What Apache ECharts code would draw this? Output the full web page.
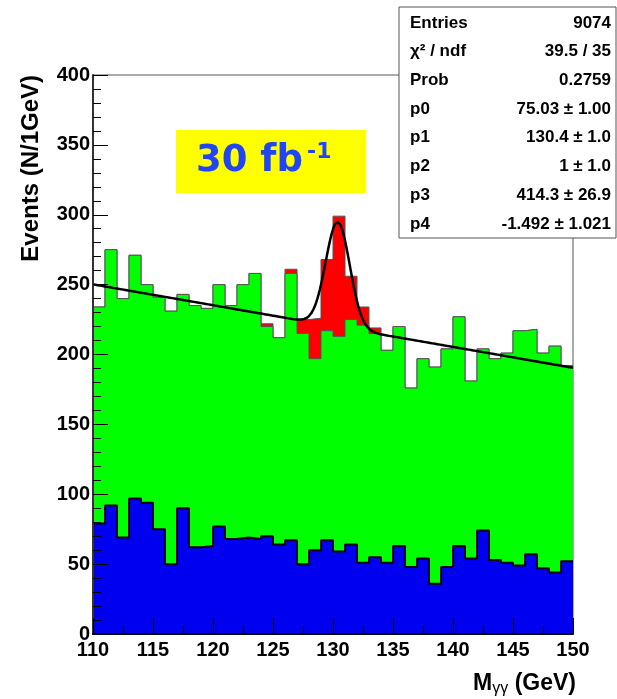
<!DOCTYPE html>
<html>
<head>
<meta charset="utf-8">
<script src="https://cdn.jsdelivr.net/npm/echarts@6/dist/echarts.min.js"></script>
<style>
  html, body { margin: 0; padding: 0; background: #fff; }
  #chart { width: 617px; height: 699px; }
</style>
</head>
<body>
<div id="chart"></div>
<script>
// 1 GeV bins from 110 to 150
const binStart = 110;
const binWidth = 1;

// total (signal + background), drawn red
const totalCounts = [234, 275, 240, 271, 250, 241, 231, 243, 235, 233,
  250, 235, 250, 258, 222, 212, 261, 225, 226, 268,
  299, 256, 234, 219, 203, 220, 176, 197, 191, 204,
  227, 181, 204, 197, 201, 217, 218, 201, 206, 192];

// background, drawn green
const bkgCounts = [234, 275, 240, 271, 250, 241, 231, 243, 235, 233,
  250, 235, 250, 258, 220, 212, 258, 215, 197, 217,
  213, 225, 221, 215, 203, 220, 176, 197, 191, 204,
  227, 181, 204, 197, 201, 217, 218, 201, 206, 192];

// one background component, drawn blue
const bkgPartCounts = [79, 92, 69, 97, 94, 75, 50, 90, 62, 63,
  77, 68, 69, 68, 70, 64, 67, 50, 60, 67,
  59, 64, 51, 55, 51, 63, 48, 54, 36, 48,
  63, 54, 74, 53, 51, 49, 57, 47, 44, 52];

// fit: p0*gaus(p1, p2) + p3 + p4*x
const fitParams = [75.03, 130.4, 1, 414.3, -1.492];

const statLabels = ['Entries', 'χ² / ndf', 'Prob', 'p0', 'p1', 'p2', 'p3', 'p4'];
const statValues = ['9074', '39.5 / 35', '0.2759', '75.03 ± 1.00', '130.4 ± 1.0',
  '1 ± 1.0', '414.3 ± 26.9', '-1.492 ± 1.021'];

const font = 'Liberation Sans, Arial, Helvetica, sans-serif';

function histPoints(counts) {
  const pts = counts.map((v, i) => [binStart + i * binWidth, v]);
  pts.push([binStart + counts.length * binWidth, counts[counts.length - 1]]);
  return pts;
}

function fitPoints() {
  const [p0, p1, p2, p3, p4] = fitParams;
  const pts = [];
  for (let k = 0; k <= 400; k++) {
    const x = 110 + k * 0.1;
    pts.push([x, p0 * Math.exp(-0.5 * Math.pow((x - p1) / p2, 2)) + p3 + p4 * x]);
  }
  return pts;
}

function histSeries(name, counts, fill, edge, edgeWidth, z) {
  return {
    name: name,
    type: 'line',
    step: 'end',
    data: histPoints(counts),
    symbol: 'none',
    z: z,
    lineStyle: { color: edge, width: edgeWidth },
    areaStyle: { color: fill, opacity: 1 },
    animation: false,
  };
}

const chart = echarts.init(document.getElementById('chart'));

const statGraphics = [{
  type: 'rect',
  shape: { x: 399, y: 7, width: 217, height: 231 },
  style: { fill: '#fff', stroke: '#555', lineWidth: 1 },
  z: 100,
}];
statLabels.forEach((lab, i) => {
  const y = 23 + i * 28.7;
  statGraphics.push({
    type: 'text', x: 410, y: y, z: 101,
    style: { text: lab, font: 'bold 17px ' + font, fill: '#000', align: 'left', verticalAlign: 'middle' },
  });
  statGraphics.push({
    type: 'text', x: 611, y: y, z: 101,
    style: { text: statValues[i], font: 'bold 17px ' + font, fill: '#000', align: 'right', verticalAlign: 'middle' },
  });
});

chart.setOption({
  backgroundColor: '#fff',
  animation: false,
  grid: {
    left: 93, right: 44, top: 75, bottom: 65,
    show: true, borderColor: '#555', borderWidth: 1, backgroundColor: 'transparent',
  },
  xAxis: {
    type: 'value',
    min: 110, max: 150, interval: 5,
    axisLine: { lineStyle: { color: '#000', width: 2 } },
    axisTick: { inside: true, length: 16, lineStyle: { color: '#000', width: 1 } },
    minorTick: { show: true, splitNumber: 2, length: 8, lineStyle: { color: '#000', width: 1 } },
    splitLine: { show: false },
    axisLabel: { color: '#000', fontSize: 20, fontWeight: 'bold', fontFamily: font, margin: 6 },
    z: 20,
  },
  yAxis: {
    type: 'value',
    min: 0, max: 400, interval: 50,
    axisLine: { show: true, lineStyle: { color: '#333', width: 2 } },
    axisTick: { show: true, inside: true, length: 15, lineStyle: { color: '#000', width: 1 } },
    minorTick: { show: true, splitNumber: 5, length: 8, lineStyle: { color: '#000', width: 1 } },
    splitLine: { show: false },
    axisLabel: { color: '#000', fontSize: 20, fontWeight: 'bold', fontFamily: font, margin: 3 },
    z: 20,
  },
  series: [
    histSeries('total', totalCounts, '#ff0000', '#555', 1, 2),
    histSeries('background', bkgCounts, '#00ff00', '#555', 1, 3),
    histSeries('component', bkgPartCounts, '#0000f0', '#000', 2, 4),
    {
      name: 'fit',
      type: 'line',
      data: fitPoints(),
      symbol: 'none',
      z: 5,
      lineStyle: { color: '#000', width: 2.5 },
      animation: false,
    },
  ],
  graphic: [
    {
      type: 'text', x: 31, y: 75, rotation: Math.PI / 2,
      style: { text: 'Events (N/1GeV)', font: 'bold 24px ' + font, fill: '#000', align: 'right', verticalAlign: 'middle' },
    },
    {
      type: 'text', x: 576, y: 684,
      style: {
        text: '{m|M}{s|γγ}{m| (GeV)}',
        align: 'right', verticalAlign: 'middle',
        rich: {
          m: { font: 'bold 23px ' + font, fill: '#000', verticalAlign: 'middle' },
          s: { font: '16px ' + font, fill: '#000', padding: [10, 0, 0, 0] },
        },
      },
    },
    {
      type: 'rect', z: 50,
      shape: { x: 176, y: 130, width: 190, height: 63 },
      style: { fill: '#ffff00' },
    },
    {
      type: 'text', x: 196, y: 161, z: 51,
      style: { text: '30 fb', font: 'bold 37px DejaVu Sans, sans-serif', fill: '#1f45f5', align: 'left', verticalAlign: 'middle' },
    },
    {
      type: 'text', x: 307, y: 152, z: 51,
      style: { text: '-1', font: 'bold 22px DejaVu Sans, sans-serif', fill: '#1f45f5', align: 'left', verticalAlign: 'middle' },
    },
  ].concat(statGraphics),
});
</script>
</body>
</html>
